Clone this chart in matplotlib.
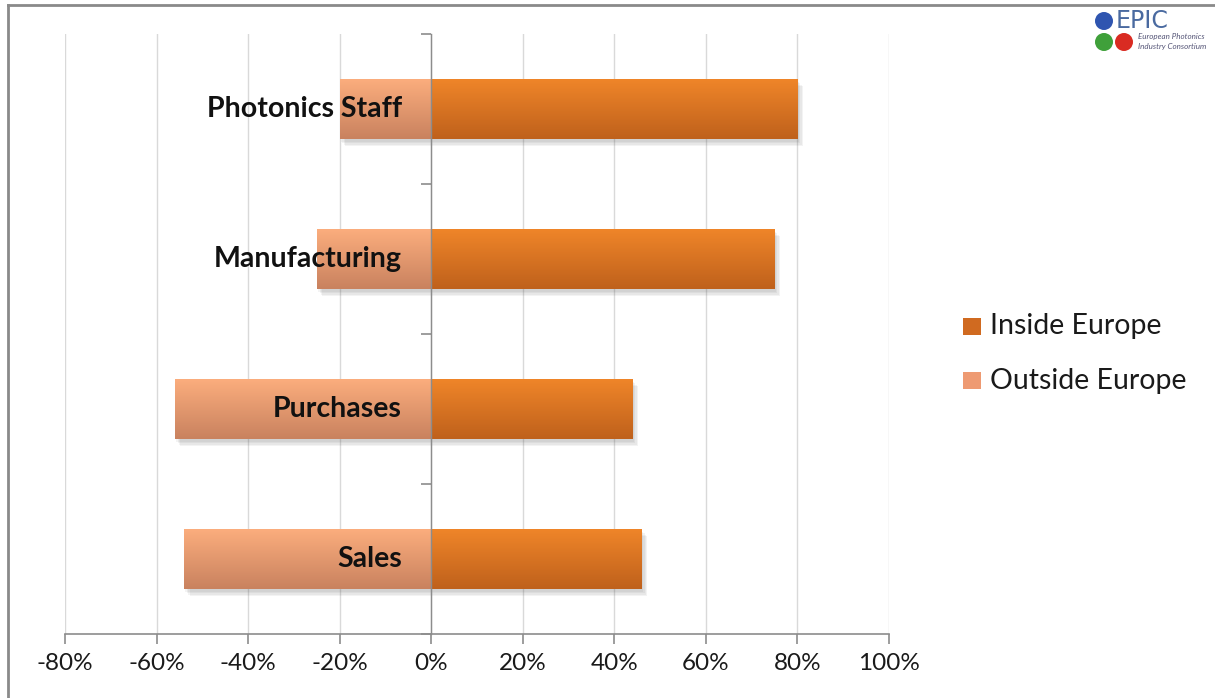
import matplotlib.pyplot as plt
import numpy as np
from matplotlib.patches import Ellipse, Rectangle
from matplotlib.colors import LinearSegmentedColormap
from matplotlib import patheffects as pe
from matplotlib.ticker import FixedLocator, FuncFormatter

# Datos (de abajo hacia arriba)
categories = ['Sales', 'Purchases', 'Manufacturing', 'Photonics Staff']
inside = [46, 44, 75, 80]
outside = [54, 56, 25, 20]
xticks = [-80, -60, -40, -20, 0, 20, 40, 60, 80, 100]

plt.rcParams['font.family'] = ['Lato', 'DejaVu Sans']

W, H = 1215, 698
fig = plt.figure(figsize=(W / 100, H / 100), dpi=100)
ax = fig.add_axes([65 / W, 1 - 634 / H, (889 - 65) / W, (634 - 34) / H])

y = np.arange(len(categories))
h = 0.4

# Sombra suave: varias capas desplazadas con poca opacidad
shadow = [pe.SimplePatchShadow(offset=(o, -o - 1), shadow_rgbFace='#555555', alpha=0.07)
          for o in (1, 2, 3, 4)] + [pe.Normal()]
b_in = ax.barh(y, inside, height=h, color='#E07424', zorder=2)
b_out = ax.barh(y, [-v for v in outside], height=h, color='#E69670', zorder=2)

cm_in = LinearSegmentedColormap.from_list('in', ['#EF8529', '#BF611C'])
cm_out = LinearSegmentedColormap.from_list('out', ['#FBAD7D', '#C9825F'])
grad = np.linspace(0, 1, 64).reshape(-1, 1)

# Relleno degradado dentro de cada barra
for bars, cmap in ((b_in, cm_in), (b_out, cm_out)):
    for bar in bars:
        bar.set_path_effects(shadow)
        x0, yb = bar.get_x(), bar.get_y()
        w, hh = bar.get_width(), bar.get_height()
        im = ax.imshow(grad, cmap=cmap, aspect='auto', zorder=2.5,
                       extent=(x0, x0 + w, yb, yb + hh), origin='upper')
        im.set_clip_path(bar)

ax.set_xlim(-80, 100)
ax.set_ylim(-0.5, len(categories) - 0.5)

# Ejes
for s in ('top', 'right'):
    ax.spines[s].set_visible(False)
ax.spines['left'].set_position(('data', 0))
ax.spines['left'].set_color('#8c8c8c')
ax.spines['bottom'].set_color('#8c8c8c')
ax.spines['left'].set_zorder(3)
ax.spines['left'].set_linewidth(1.0)
ax.spines['bottom'].set_linewidth(1.2)

ax.xaxis.set_major_locator(FixedLocator(xticks))
ax.xaxis.set_major_formatter(FuncFormatter(lambda v, p: f'{v:.0f}%'))
ax.tick_params(axis='x', length=7, width=1.2, color='#8c8c8c', labelsize=17.5,
               labelcolor='#1a1a1a', pad=7)
ax.yaxis.set_major_locator(FixedLocator(np.arange(-0.5, len(categories), 1.0)))
ax.yaxis.set_major_formatter(FuncFormatter(lambda v, p: ''))
ax.tick_params(axis='y', length=7, width=1.2, color='#8c8c8c', direction='out')
ax.grid(axis='x', color='#d9d9d9', linewidth=1.0, zorder=0)
ax.set_axisbelow(True)

# Etiquetas de categoría junto al eje
for yi, name in zip(y, categories):
    ax.annotate(name, (0, yi), xytext=(-21, 0), textcoords='offset points',
                ha='right', va='center', fontsize=20.5, fontweight='bold',
                color='#111111', zorder=5)

# Leyenda
fig.patches.append(Rectangle((963 / W, 1 - 335 / H), 18 / W, 17 / H,
                             transform=fig.transFigure, facecolor='#D06A20'))
fig.patches.append(Rectangle((963 / W, 1 - 389 / H), 18 / W, 17 / H,
                             transform=fig.transFigure, facecolor='#EE9A72'))
fig.text(990 / W, 1 - 326 / H, 'Inside Europe', fontsize=20.5, va='center', color='#1a1a1a')
fig.text(990 / W, 1 - 381 / H, 'Outside Europe', fontsize=20.5, va='center', color='#1a1a1a')

# Logo EPIC
for cx, cy, col in ((1104, 21, '#2f55b0'), (1104, 42, '#3fa03a'), (1124, 42, '#d92b22')):
    fig.patches.append(Ellipse((cx / W, 1 - cy / H), 18 / W, 18 / H,
                               transform=fig.transFigure, facecolor=col))
fig.text(1116 / W, 1 - 21 / H, 'EPIC', fontsize=17, va='center', color='#4a6aa0',
         family=['DejaVu Sans'])
fig.text(1138 / W, 1 - 37 / H, 'European Photonics', fontsize=5.8, va='center',
         color='#555577', style='italic')
fig.text(1138 / W, 1 - 46 / H, 'Industry Consortium', fontsize=5.8, va='center',
         color='#555577', style='italic')

# Marco
fig.add_artist(plt.Line2D([8 / W, 8 / W], [0, 1 - 5 / H], transform=fig.transFigure,
                          color='#8a8a8a', linewidth=2))
fig.add_artist(plt.Line2D([8 / W, 1], [1 - 5 / H, 1 - 5 / H], transform=fig.transFigure,
                          color='#8a8a8a', linewidth=2))

fig.savefig('out.png', dpi=100)
